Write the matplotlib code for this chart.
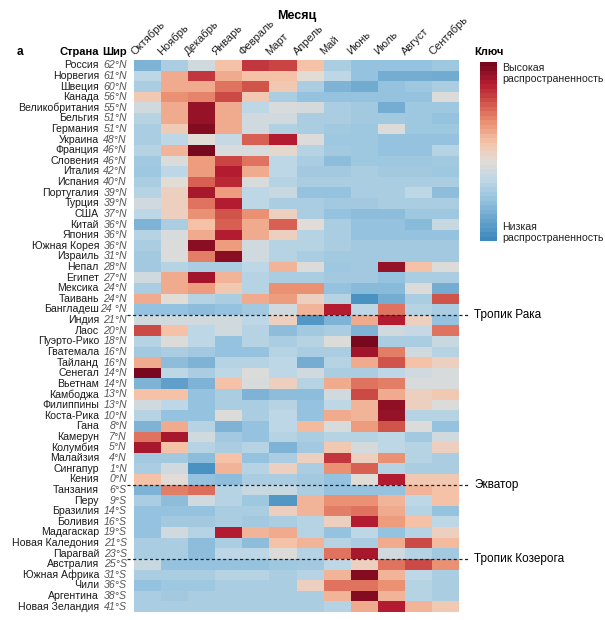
import numpy as np
import matplotlib
matplotlib.use('Agg')
import matplotlib.pyplot as plt
import matplotlib.transforms as mtransforms
from matplotlib.colors import LinearSegmentedColormap

plt.rcParams['font.family'] = ['Liberation Sans', 'DejaVu Sans']

months = ['Октябрь', 'Ноябрь', 'Декабрь', 'Январь', 'Февраль', 'Март',
          'Апрель', 'Май', 'Июнь', 'Июль', 'Август', 'Сентябрь']

countries = ['Россия', 'Норвегия', 'Швеция', 'Канада', 'Великобритания', 'Бельгия',
             'Германия', 'Украина', 'Франция', 'Словения', 'Италия', 'Испания',
             'Португалия', 'Турция', 'США', 'Китай', 'Япония', 'Южная Корея',
             'Израиль', 'Непал', 'Египет', 'Мексика', 'Таивань', 'Бангладеш',
             'Индия', 'Лаос', 'Пуэрто-Рико', 'Гватемала', 'Тайланд', 'Сенегал',
             'Вьетнам', 'Камбоджа', 'Филиппины', 'Коста-Рика', 'Гана', 'Камерун',
             'Колумбия', 'Малайзия', 'Сингапур', 'Кения', 'Танзания', 'Перу',
             'Бразилия', 'Боливия', 'Мадагаскар', 'Новая Каледония', 'Парагвай',
             'Австралия', 'Южная Африка', 'Чили', 'Аргентина', 'Новая Зеландия']

latitudes = ['62°N', '61°N', '60°N', '56°N', '55°N', '51°N', '51°N', '48°N', '46°N',
             '46°N', '42°N', '40°N', '39°N', '39°N', '37°N', '36°N', '36°N', '36°N',
             '31°N', '28°N', '27°N', '24°N', '24°N', '24 °N', '21°N', '20°N', '18°N',
             '16°N', '16°N', '14°N', '14°N', '13°N', '13°N', '10°N', '8°N', '7°N',
             '5°N', '4°N', '1°N', '0°N', '6°S', '9°S', '14°S', '16°S', '19°S',
             '21°S', '23°S', '25°S', '31°S', '36°S', '38°S', '41°S']

# relative prevalence, 1 = low ... 10 = high
prevalence = np.array([
    [2.5, 3.5, 4.5, 6.0, 8.5, 8.3, 6.0, 3.5, 3.0, 3.0, 3.0, 3.2],
    [4.0, 6.5, 8.5, 6.5, 6.0, 6.0, 5.0, 4.0, 3.0, 2.3, 2.3, 2.2],
    [3.5, 6.5, 6.5, 7.5, 8.0, 5.8, 3.5, 2.5, 2.2, 3.0, 3.2, 3.5],
    [5.8, 7.0, 7.2, 8.2, 5.8, 3.5, 3.0, 3.0, 3.0, 3.0, 3.0, 4.8],
    [4.5, 6.5, 9.5, 6.5, 4.0, 4.7, 4.6, 3.5, 3.3, 2.3, 3.2, 3.2],
    [3.8, 6.5, 9.5, 6.5, 4.5, 4.5, 3.5, 3.5, 3.3, 3.3, 3.2, 3.0],
    [3.5, 5.7, 9.8, 6.5, 4.5, 3.7, 3.5, 3.3, 3.2, 4.8, 3.2, 3.2],
    [3.5, 4.0, 5.0, 4.2, 7.8, 9.0, 4.8, 3.2, 3.2, 3.0, 3.0, 3.0],
    [3.8, 6.3, 10.0, 4.7, 4.7, 5.2, 3.8, 3.3, 3.2, 3.0, 3.0, 3.8],
    [3.3, 4.8, 6.8, 8.3, 7.5, 4.0, 3.5, 2.8, 3.2, 3.2, 3.2, 3.3],
    [3.2, 4.0, 6.8, 9.0, 6.5, 4.0, 3.3, 3.3, 3.5, 3.3, 3.3, 3.2],
    [3.5, 5.0, 7.8, 8.8, 4.7, 3.8, 3.5, 3.5, 3.5, 3.5, 3.5, 3.5],
    [3.8, 5.5, 9.2, 6.8, 4.0, 4.3, 3.0, 3.0, 3.5, 3.5, 4.0, 2.8],
    [4.5, 5.5, 7.5, 9.0, 4.0, 3.5, 3.5, 3.3, 3.3, 3.5, 3.5, 3.5],
    [4.0, 5.5, 7.0, 8.0, 7.0, 5.5, 3.5, 3.0, 2.8, 2.8, 3.2, 3.2],
    [2.5, 3.5, 6.0, 7.8, 6.5, 7.8, 5.0, 3.5, 3.0, 3.0, 2.7, 4.3],
    [3.8, 4.7, 6.5, 9.0, 6.5, 5.5, 3.8, 3.5, 3.0, 3.0, 3.0, 3.0],
    [3.5, 4.8, 9.7, 6.8, 4.5, 3.8, 3.8, 3.5, 3.3, 3.3, 3.3, 3.3],
    [3.3, 4.8, 7.3, 9.7, 4.5, 3.8, 3.5, 3.3, 3.3, 3.3, 3.3, 3.3],
    [3.3, 3.8, 3.5, 3.5, 4.0, 6.3, 4.8, 3.2, 3.3, 9.5, 6.0, 4.8],
    [4.5, 6.5, 9.3, 6.3, 3.8, 3.5, 3.5, 3.3, 3.3, 3.0, 3.5, 3.5],
    [3.5, 6.5, 6.8, 5.8, 3.8, 7.0, 7.0, 3.0, 2.7, 2.7, 4.8, 2.3],
    [6.5, 5.0, 3.8, 3.5, 6.5, 6.8, 5.5, 3.8, 1.3, 2.3, 3.5, 8.0],
    [3.0, 3.0, 2.8, 3.0, 3.3, 4.5, 6.3, 9.0, 4.0, 7.5, 3.8, 3.5],
    [4.5, 4.5, 4.5, 4.5, 4.0, 5.5, 1.5, 2.5, 6.5, 9.0, 5.5, 3.0],
    [8.2, 6.0, 4.0, 4.5, 3.8, 2.8, 3.3, 3.5, 2.5, 4.5, 4.2, 7.5],
    [3.8, 4.8, 4.0, 3.0, 3.8, 3.5, 3.8, 4.8, 10.0, 3.5, 3.5, 4.3],
    [3.3, 3.5, 3.3, 3.0, 3.0, 3.8, 3.5, 3.5, 9.3, 7.3, 4.5, 3.8],
    [6.5, 2.8, 2.5, 3.8, 3.8, 4.0, 2.3, 3.8, 6.5, 8.0, 6.0, 5.5],
    [10.0, 4.0, 3.5, 4.0, 4.8, 4.0, 4.5, 3.5, 3.5, 4.0, 4.5, 4.7],
    [2.5, 1.8, 2.5, 6.0, 4.7, 5.5, 3.8, 6.5, 7.5, 7.3, 4.7, 4.7],
    [6.0, 6.0, 3.0, 3.5, 2.5, 2.8, 2.8, 4.5, 8.2, 6.5, 5.5, 5.8],
    [4.5, 4.0, 3.0, 3.5, 3.5, 3.8, 3.0, 4.0, 6.3, 9.6, 5.5, 4.8],
    [3.8, 3.0, 3.0, 4.8, 3.5, 4.0, 3.0, 6.5, 6.3, 9.5, 3.8, 3.8],
    [2.5, 6.5, 3.8, 2.5, 3.0, 4.0, 6.2, 4.7, 6.8, 8.0, 4.8, 3.0],
    [7.5, 9.2, 4.5, 3.3, 3.0, 3.8, 3.5, 3.8, 3.8, 4.0, 3.3, 4.5],
    [9.2, 6.0, 3.8, 3.5, 3.8, 2.5, 3.3, 5.8, 4.6, 4.0, 3.8, 5.5],
    [3.3, 3.3, 2.8, 6.0, 3.0, 3.5, 5.5, 8.5, 5.5, 7.0, 3.8, 3.5],
    [3.5, 4.5, 1.3, 6.3, 3.8, 5.5, 3.5, 7.0, 7.8, 3.8, 3.5, 3.5],
    [6.0, 5.0, 3.0, 2.8, 3.5, 3.5, 3.3, 3.0, 5.0, 9.0, 5.8, 5.8],
    [2.5, 7.3, 7.6, 3.8, 4.3, 4.3, 3.5, 3.0, 3.0, 3.0, 6.3, 6.0],
    [3.5, 2.8, 4.5, 3.8, 3.2, 1.5, 6.3, 7.0, 7.0, 6.3, 4.0, 6.0],
    [3.0, 3.0, 3.0, 3.5, 3.5, 5.5, 6.3, 7.3, 7.5, 6.5, 3.8, 3.0],
    [3.0, 3.3, 3.3, 3.5, 3.3, 3.5, 3.8, 5.5, 9.0, 6.8, 6.0, 4.0],
    [3.0, 4.5, 3.8, 9.0, 6.3, 6.5, 3.8, 3.0, 4.0, 3.0, 3.8, 5.5],
    [3.5, 3.5, 2.8, 3.5, 2.8, 6.0, 6.3, 3.8, 3.5, 6.5, 8.2, 6.2],
    [3.5, 3.5, 2.8, 4.0, 4.0, 4.8, 3.8, 7.5, 9.2, 4.5, 3.8, 3.3],
    [4.3, 3.0, 3.0, 3.0, 3.0, 3.2, 3.3, 4.0, 5.5, 7.5, 8.2, 7.0],
    [3.5, 3.5, 3.5, 3.8, 3.8, 3.5, 3.8, 6.3, 9.8, 6.3, 4.0, 3.5],
    [3.0, 3.2, 3.2, 3.5, 3.5, 3.5, 5.5, 7.5, 7.5, 7.0, 3.8, 3.5],
    [3.5, 3.3, 3.5, 3.5, 3.5, 3.5, 3.5, 6.3, 9.8, 6.3, 3.8, 3.5],
    [3.5, 3.5, 3.5, 3.5, 3.5, 3.5, 3.5, 3.8, 6.5, 9.0, 6.3, 5.8],
])

# reference lines: (row boundary, label)
ref_lines = [(24, 'Тропик Рака'), (40, 'Экватор'), (47, 'Тропик Козерога')]

node_cols = np.array([
    (62, 138, 190), (105, 165, 205), (150, 195, 222), (190, 215, 230),
    (226, 220, 214), (245, 195, 168), (235, 145, 115), (210, 85, 75),
    (180, 28, 48), (120, 8, 30)]) / 255.0
cmap = LinearSegmentedColormap.from_list('prev', node_cols)

W, H = 605, 620
fig = plt.figure(figsize=(W / 100, H / 100), dpi=100)
x0, x1, y0, y1 = 134, 459, 60, 612
ax = fig.add_axes([x0 / W, 1 - y1 / H, (x1 - x0) / W, (y1 - y0) / H])

nrow, ncol = prevalence.shape
ax.pcolormesh(np.arange(ncol + 1), np.arange(nrow + 1), prevalence,
              cmap=cmap, vmin=1, vmax=10)
ax.set_xlim(0, ncol)
ax.set_ylim(nrow, 0)
ax.axis('off')

# month labels
tr_top = mtransforms.blended_transform_factory(ax.transData, ax.transAxes)
for i, m in enumerate(months):
    ax.text(i + 0.08, 1.006, m, transform=tr_top, rotation=45,
            rotation_mode='anchor', ha='left', va='bottom', fontsize=8, color='#222222')

# row labels
tr_row = mtransforms.blended_transform_factory(fig.transFigure, ax.transData)
for j, (c, lat) in enumerate(zip(countries, latitudes)):
    ax.text(99 / W, j + 0.5, c, transform=tr_row, ha='right', va='center',
            fontsize=7.6, color='#1a1a1a')
    ax.text(127 / W, j + 0.5, lat, transform=tr_row, ha='right', va='center',
            fontsize=7.6, color='#555555', style='italic')

# headers
fig.text(99 / W, 1 - 52 / H, 'Страна', ha='right', va='center', fontsize=8, fontweight='bold')
fig.text(127 / W, 1 - 52 / H, 'Шир', ha='right', va='center', fontsize=8, fontweight='bold')
fig.text(17 / W, 1 - 52 / H, 'а', ha='left', va='center', fontsize=8.5, fontweight='bold')
fig.text(297 / W, 1 - 16 / H, 'Месяц', ha='center', va='center', fontsize=9, fontweight='bold')

# tropics / equator
for yb, lab in ref_lines:
    ax.plot([127 / W, 468 / W], [yb, yb], transform=tr_row, clip_on=False,
            color='#222222', lw=0.9, ls=(0, (2.5, 2)))
    ax.text(474 / W, yb, lab, transform=tr_row, ha='left', va='center', fontsize=8.5)

# key
fig.text(474 / W, 1 - 52 / H, 'Ключ', ha='left', va='center', fontsize=8, fontweight='bold')
cax = fig.add_axes([480 / W, 1 - 241 / H, 17 / W, 179 / H])
grad = np.linspace(10, 1, 40).reshape(-1, 1)
cax.imshow(grad, cmap=cmap, vmin=1, vmax=10, aspect='auto', interpolation='nearest')
cax.axis('off')
fig.text(502 / W, 1 - 63 / H, 'Высокая\nраспространенность', ha='left', va='top',
         fontsize=7.6, linespacing=1.1, color='#222222')
fig.text(502 / W, 1 - 243 / H, 'Низкая\nраспространенность', ha='left', va='bottom',
         fontsize=7.6, linespacing=1.1, color='#222222')

fig.savefig('out.png', dpi=100, facecolor='white')
